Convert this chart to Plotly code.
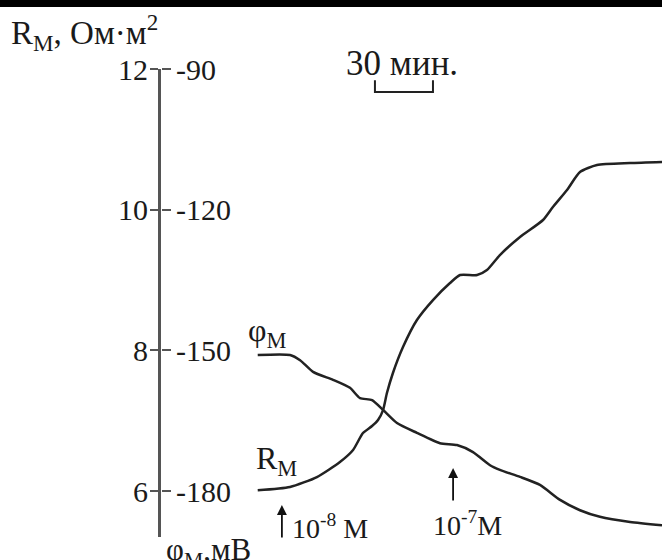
import plotly.graph_objects as go

# ---- data (time in minutes, R in Ом·м², φ in мВ) ----
r_time = [0, 16.7, 30.6, 42.5, 49.3, 54.4, 59.1, 62.2, 64.8, 66.8, 69.9, 75.1, 82.3,
          90.6, 99.4, 104.6, 113.4, 118.5, 125.2, 135.6, 147.5, 152.6, 159.9, 166.6,
          175.4, 192.5, 209]
r_vals = [6.01, 6.057, 6.199, 6.412, 6.583, 6.824, 6.924, 7.01, 7.151, 7.393, 7.678,
          8.047, 8.431, 8.715, 8.957, 9.071, 9.071, 9.142, 9.355, 9.611, 9.853, 10.038,
          10.28, 10.535, 10.635, 10.663, 10.678]

phi_time = [0, 16.7, 21.9, 28.6, 38.9, 47.7, 52.9, 59.1, 64.8, 72.0, 82.3, 94.2, 103.0,
            111.3, 120.1, 125.2, 135.6, 145.9, 156.3, 166.6, 176.9, 192.5, 209]
phi_vals = [-151.0, -151.0, -152.1, -154.6, -156.3, -158.0, -160.2, -160.6, -162.7,
            -165.5, -167.6, -169.8, -170.2, -171.7, -174.5, -175.5, -177.0, -178.7,
            -181.9, -184.1, -185.5, -186.6, -187.3]

r_ticks = [12, 10, 8, 6]
r_ticklabels = ["12", "10", "8", "6"]
phi_ticks = [-90, -120, -150, -180]
phi_ticklabels = ["-90", "-120", "-150", "-180"]

# additions of substance (time, label)
add_times = [12.5, 101.0]
add_labels = ["10<sup>-8</sup> М", "10<sup>-7</sup>М"]
scale_start = 60.6
scale_len = 30

X_RANGE = [-50, 209]
R_RANGE = [5.346, 12]
PHI_RANGE = [-180 + (R_RANGE[0] - 6) * 15, -90]

W, H = 662, 560
ML, MT, MB = 161, 69, 23
PW, PH = W - ML, H - MT - MB


def pxp(px, py):
    return (px - ML) / PW, 1 - (py - MT) / PH


FONT = "Liberation Serif, Times New Roman, serif"
LINE_C = "#222222"
AX_C = "#555555"
TXT_C = "#1a1a1a"

fig = go.Figure()
fig.add_trace(go.Scatter(x=r_time, y=r_vals, mode="lines",
                         line=dict(color=LINE_C, width=2.5, shape="spline", smoothing=0.6),
                         yaxis="y", hoverinfo="skip"))
fig.add_trace(go.Scatter(x=phi_time, y=phi_vals, mode="lines",
                         line=dict(color=LINE_C, width=2.5, shape="spline", smoothing=0.6),
                         yaxis="y2", hoverinfo="skip"))

annotations = []
# title
x0, y0 = pxp(9, 32)
annotations.append(dict(text="R<sub>М</sub>, Ом·м<sup>2</sup>", x=x0, y=y0, xref="paper", yref="paper",
                        xanchor="left", yanchor="middle", showarrow=False,
                        font=dict(family=FONT, size=33, color=TXT_C)))
# bottom axis label
x0, y0 = pxp(164, 530)
annotations.append(dict(text="φ<sub>М</sub>,мВ", x=x0, y=y0, xref="paper", yref="paper",
                        xanchor="left", yanchor="top", showarrow=False,
                        font=dict(family=FONT, size=31, color=TXT_C)))
# scale label
x0, y0 = pxp(344, 63)
annotations.append(dict(text="30 мин.", x=x0, y=y0, xref="paper", yref="paper",
                        xanchor="left", yanchor="middle", showarrow=False,
                        font=dict(family=FONT, size=35, color=TXT_C)))
# curve labels
annotations.append(dict(text="φ<sub>М</sub>", x=-6.0, y=8.26, xref="x", yref="y",
                        xanchor="left", yanchor="middle", showarrow=False,
                        font=dict(family=FONT, size=32, color=TXT_C)))
annotations.append(dict(text="R<sub>М</sub>", x=-2.0, y=6.44, xref="x", yref="y",
                        xanchor="left", yanchor="middle", showarrow=False,
                        font=dict(family=FONT, size=32, color=TXT_C)))
# arrows for additions
arrow_tip_R = [5.80, 6.327]
for t, tipR in zip(add_times, arrow_tip_R):
    annotations.append(dict(text="", x=t, y=tipR, xref="x", yref="y", ax=0, ay=34,
                            showarrow=True, arrowhead=2, arrowsize=1.1, arrowwidth=1.8,
                            arrowcolor="#111"))
annotations.append(dict(text=add_labels[0], x=add_times[0] + 4.0, y=5.49, xref="x", yref="y",
                        xanchor="left", yanchor="middle", showarrow=False,
                        font=dict(family=FONT, size=28, color=TXT_C)))
annotations.append(dict(text=add_labels[1], x=add_times[1] - 11.5, y=5.54, xref="x", yref="y",
                        xanchor="left", yanchor="middle", showarrow=False,
                        font=dict(family=FONT, size=28, color=TXT_C)))

shapes = [
    # top black border band
    dict(type="rect", xref="paper", yref="paper",
         x0=pxp(0, 0)[0], x1=pxp(W, 0)[0], y0=pxp(0, 7)[1], y1=pxp(0, -2)[1],
         fillcolor="black", line=dict(width=0)),
    # 30 min scale bar
    dict(type="path", xref="x", yref="y",
         path=f"M {scale_start},11.84 L {scale_start},11.673 L {scale_start + scale_len},11.673 L {scale_start + scale_len},11.84",
         line=dict(color="#222", width=2)),
]

fig.update_layout(
    width=W, height=H,
    margin=dict(l=ML, r=W - ML - PW, t=MT, b=MB),
    paper_bgcolor="white", plot_bgcolor="white",
    showlegend=False,
    xaxis=dict(range=X_RANGE, visible=False, showgrid=False, zeroline=False),
    yaxis=dict(range=R_RANGE, tickvals=r_ticks, ticktext=r_ticklabels, automargin=False,
               showline=True, linewidth=3, linecolor=AX_C, ticks="outside", ticklen=8,
               tickwidth=2, tickcolor=AX_C, showgrid=False, zeroline=False,
               tickfont=dict(family=FONT, size=30, color=TXT_C), ticklabelstandoff=-4),
    yaxis2=dict(range=PHI_RANGE, tickvals=phi_ticks, ticktext=phi_ticklabels, automargin=False,
                overlaying="y", anchor="free", position=0, side="right",
                showline=False, ticks="outside", ticklen=9,
                tickwidth=2, tickcolor=AX_C, showgrid=False, zeroline=False,
                tickfont=dict(family=FONT, size=30, color=TXT_C), ticklabelstandoff=-1),
    annotations=annotations,
    shapes=shapes,
)

fig.write_html("out.html", config={"displayModeBar": False},
               post_script="document.body.style.margin='0';document.body.style.overflow='hidden';")
